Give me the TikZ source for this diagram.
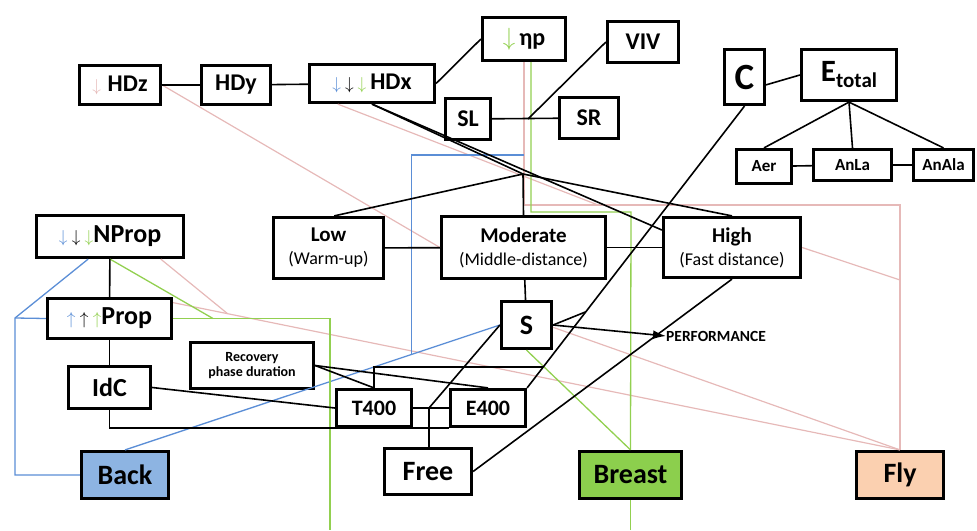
\documentclass[tikz,border=0pt]{standalone}
\usepackage{fontspec}
\setmainfont{Carlito}
\usetikzlibrary{calc}
\usetikzlibrary{arrows.meta}

\definecolor{pinkln}{HTML}{E6B9B8}
\definecolor{blueln}{HTML}{5B8ED6}
\definecolor{greenln}{HTML}{92D050}
\definecolor{backfill}{HTML}{8DB4E2}
\definecolor{breastfill}{HTML}{8CCF4D}
\definecolor{flyfill}{HTML}{FBD0B0}

\newcommand{\fsz}[1]{\fontsize{#1}{#1}\selectfont}
\newcommand{\dn}[1]{\textcolor{#1}{\fsz{17}$\downarrow$}}
\newcommand{\upa}[1]{\textcolor{#1}{\fsz{17}$\uparrow$}}

\begin{document}
\begin{tikzpicture}[x=1pt, y=-1pt,
		box/.style={draw, line width=3.2pt, inner sep=0pt, align=center, font=\bfseries\fsz{24}},
		link/.style={line width=1.6pt},
		pinklink/.style={line width=1.2pt, pinkln},
		bluelink/.style={line width=1.3pt, blueln},
		greenlink/.style={line width=1.3pt, greenln}]
		\useasboundingbox (0,0) rectangle (977,530);

		\node[box, minimum width=81, minimum height=39] (HDz) at (120,85) {\dn{pinkln}\;HDz};
		\node[box, minimum width=69, minimum height=39] (HDy) at (236,85) {HDy};
		\node[box, minimum width=125, minimum height=38] (HDx) at (372,83.5) {\dn{blueln}\,\dn{black}\,\dn{greenln}\,HDx};
		\node[box, minimum width=83, minimum height=43] (etap) at (524,39) {\textcolor{greenln}{\fsz{24}$\downarrow$}\,ηp};
		\node[box, minimum width=71, minimum height=41] (VIV) at (643,42) {VIV};
		\node[box, minimum width=45, minimum height=41] (SL) at (468,119) {SL};
		\node[box, minimum width=59, minimum height=41] (SR) at (589,118) {SR};
		\node[box, minimum width=40, minimum height=55, font=\bfseries\fsz{37}] (C) at (744.5,77) {C};
		\node[box, minimum width=95, minimum height=51, font=\bfseries\fsz{31}] (Et) at (849,75) {E\raisebox{-6pt}{\fsz{21}total}};
		\node[box, minimum width=55, minimum height=34, font=\bfseries\fsz{17}] (Aer) at (764,166.5) {Aer};
		\node[box, minimum width=78, minimum height=31, font=\bfseries\fsz{17}] (AnLa) at (852.5,165) {AnLa};
		\node[box, minimum width=60, minimum height=31, font=\bfseries\fsz{17}] (AnAla) at (943.5,165) {AnAla};

		\node[box, minimum width=147, minimum height=42, font=\bfseries\fsz{26}] (NProp) at (110,236.5) {\dn{blueln}\,\dn{black}\,\dn{greenln}NProp};
		\node[box, minimum width=110, minimum height=61, font=\bfseries\fsz{21}] (Low) at (328.5,248) {Low\\[2pt]{\mdseries\fsz{18}(Warm-up)}};
		\node[box, minimum width=164, minimum height=62, font=\bfseries\fsz{21}] (Mod) at (523.5,247.5) {Moderate\\[2pt]{\mdseries\fsz{18}(Middle-distance)}};
		\node[box, minimum width=137, minimum height=60, font=\bfseries\fsz{21}] (High) at (732,247.5) {High\\[2pt]{\mdseries\fsz{18}(Fast distance)}};
		\node[box, minimum width=124, minimum height=40, font=\bfseries\fsz{26}] (Prop) at (109.5,318.5) {\upa{blueln}\,\upa{black}\,\upa{greenln}Prop};
		\node[box, minimum width=50, minimum height=47, font=\bfseries\fsz{28}] (S) at (526.5,325) {S};
		\node[inner sep=0pt, anchor=west, font=\bfseries\fsz{15.5}] (perf) at (666,336) {PERFORMANCE};
		\node[box, minimum width=123, minimum height=46, font=\bfseries\fsz{14}] (Rec) at (252,365.5) {Recovery\\[1pt]phase duration};
		\node[box, minimum width=82, minimum height=42, font=\bfseries\fsz{26}] (IdC) at (109.5,387.5) {IdC};
		\node[box, minimum width=75, minimum height=37, font=\bfseries\fsz{22}] (T400) at (374,408) {T400};
		\node[box, minimum width=75, minimum height=37, font=\bfseries\fsz{22}] (E400) at (488,408) {E400};
		\node[box, minimum width=87, minimum height=46, font=\bfseries\fsz{28}] (Free) at (428,471.5) {Free};
		\node[box, minimum width=87, minimum height=47, font=\bfseries\fsz{28}, fill=backfill] (Back) at (125,475) {Back};
		\node[box, minimum width=102, minimum height=47, font=\bfseries\fsz{28}, fill=breastfill] (Breast) at (630.5,475) {Breast};
		\node[box, minimum width=87, minimum height=47, font=\bfseries\fsz{28}, fill=flyfill] (Fly) at (900,475) {Fly};

		\coordinate (J) at (523,174);
		\coordinate (vj) at (528,119);
		\coordinate (K) at (429,408);
		\coordinate (pk) at (900,205);
		\coordinate (pf) at (900,280);
		\coordinate (hp) at (598,205);
		\coordinate (bl) at (15,318);
		\coordinate (bt) at (524,155);
		\coordinate (gp) at (213,318.5);
		\coordinate (gk) at (631,212);
		\coordinate (ge) at (330,530);
		\coordinate (gf) at (630.5,530);
		\coordinate (ce1) at ($(C.south)!0.73!(E400.north east)$);
		\coordinate (ce2) at ($(C.south)!0.926!(E400.north east)$);
		\coordinate (pp) at ($(Prop.14)!0.075!(Fly.north)$);
		\coordinate (bs) at ($(Back.north)!0.765!(S.west)$);

		\draw[pinklink] (HDz.east) -- (Mod.west);
		\draw[pinklink] (HDx.-149) -- (hp);
		\draw[pinklink] (etap.south) |- (pk) -- (Fly.north);
		\draw[pinklink] (High.east) -- (pf);
		\draw[pinklink] (Prop.14) -- (Fly.north);
		\draw[pinklink] (NProp.-24) -- (pp);
		\draw[pinklink] (S.-5) -- (Fly.north);

		\draw[bluelink] (NProp.-134) -- (bl) |- (Back.west);
		\draw[bluelink] (Prop.west) -- (bl);
		\draw[bluelink] (Back.north) -- (S.west);
		\draw[bluelink] (bt) -| (bs);

		\draw[greenlink] (NProp.south) -- (gp);
		\draw[greenlink] (Prop.east) -| (ge);
		\draw[greenlink] (Breast.south) -- (gf);
		\draw[greenlink] ([xshift=7pt]etap.south) |- (gk) -- (Breast.north);
		\draw[greenlink] (S.south) -- (Breast.north);

		\draw[link] (HDz) -- (HDy);
		\draw[link] (HDy) -- (HDx);
		\draw[link] (HDx.east) -- (etap.west);
		\draw[link] (SL) -- (SR);
		\draw[link] (VIV.west) -- (vj);
		\draw[link] (HDx.south) -- (J);
		\draw[link] (HDx.south) -- (High.166);
		\draw[link] (Low.80) -- (J) -- (High.north);
		\draw[link] (J) -- (Mod.north);
		\draw[link] (Low) -- (Mod);
		\draw[link] (Mod) -- (High);
		\draw[link] (Mod) -- (S);
		\draw[link] (C.-20) -- (Et.west);
		\draw[link] (Et.south) -- (Aer.north);
		\draw[link] (Et.south) -- (AnLa.north);
		\draw[link] (Et.south) -- (AnAla.north);
		\draw[link] (Aer) -- (AnLa);
		\draw[link] (AnLa) -- (AnAla);
		\draw[link] (C.south) -- (E400.north east);
		\draw[link] (S.east) -- (ce1);
		\draw[link, -{Latex[length=13pt, width=9pt]}] (S.east) -- (perf.west);
		\draw[link] (Free.east) -- (High.south);
		\draw[link] (T400) -- (K) -- (E400);
		\draw[link] (K) -- (K |- Free.north);
		\draw[link] (K) -- (S.west);
		\draw[link] (IdC.east) -- (T400.west);
		\draw[link] (IdC.south) |- (E400.south west);
		\draw[link] (Rec.east) -- (T400.north);
		\draw[link] (Rec.east) -- (E400.north);
		\draw[link] (T400.north) |- (ce2);
		\draw[link] (NProp) -- (Prop);
		\draw[link] (Prop) -- (IdC);
	\end{tikzpicture}
\end{document}
